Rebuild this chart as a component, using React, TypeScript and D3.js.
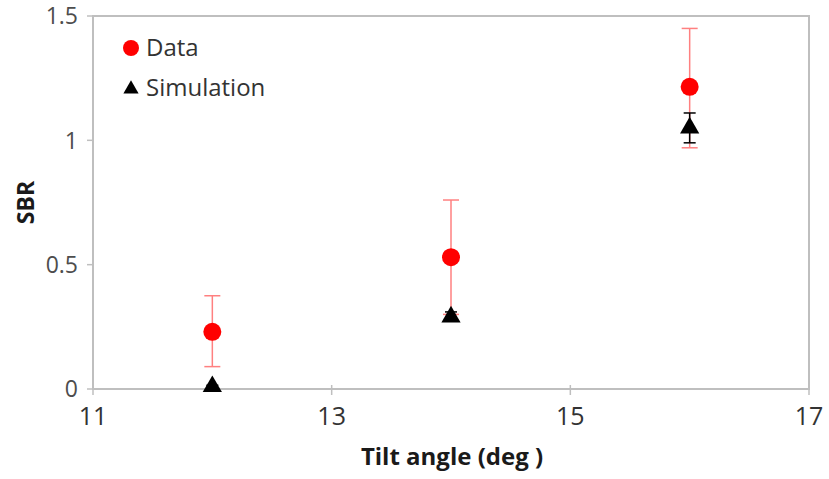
import React from 'react';
import * as d3 from 'd3';

// tilt angle (deg)
const angles = [12, 14, 16];
// measured SBR with error bar limits
const dataVals = [0.23, 0.53, 1.215];
const dataLow = [0.09, 0.3, 0.97];
const dataHigh = [0.375, 0.76, 1.45];
// simulated SBR with error bar limits
const simVals = [0.01, 0.29, 1.05];
const simLow = [0.005, 0.28, 0.99];
const simHigh = [0.015, 0.31, 1.11];

const xTicks = [11, 13, 15, 17];
const yTicks = [0, 0.5, 1, 1.5];

const W = 829;
const H = 479;
const m = { left: 93, right: 20, top: 16, bottom: 90 };

export default function App() {
  const x = d3.scaleLinear().domain([11, 17]).range([m.left, W - m.right]);
  const y = d3.scaleLinear().domain([0, 1.5]).range([H - m.bottom, m.top]);
  const tri = d3.symbol().type(d3.symbolTriangle).size(160)();
  const font = "'Open Sans', Lato, sans-serif";
  const axisCol = '#bfbfbf';
  const errBar = (xv: number, lo: number, hi: number, col: string, key: string, cap = 8) => (
    <g key={key} stroke={col} strokeWidth={1.5}>
      <line x1={x(xv)} x2={x(xv)} y1={y(lo)} y2={y(hi)} />
      <line x1={x(xv) - cap} x2={x(xv) + cap} y1={y(hi)} y2={y(hi)} />
      <line x1={x(xv) - cap} x2={x(xv) + cap} y1={y(lo)} y2={y(lo)} />
    </g>
  );
  return (
    <svg width={W} height={H} style={{ position: 'absolute', left: 0, top: 0, background: '#fff' }} fontFamily={font}>
      {/* frame */}
      <rect x={x(11)} y={y(1.5)} width={x(17) - x(11)} height={y(0) - y(1.5)} fill="none" stroke={axisCol} strokeWidth={2} />
      {yTicks.map(t => (
        <g key={'y' + t}>
          <line x1={x(11) - 6} x2={x(11)} y1={y(t)} y2={y(t)} stroke={axisCol} strokeWidth={1.5} />
          <text x={x(11) - 15} y={y(t)} dy="0.36em" textAnchor="end" fontSize={23} fill="#4d4d4d">{t}</text>
        </g>
      ))}
      {xTicks.map(t => (
        <g key={'x' + t}>
          <line x1={x(t)} x2={x(t)} y1={y(0) - 4} y2={y(0) + 6} stroke={axisCol} strokeWidth={1.5} />
          <text x={x(t)} y={y(0) + 36} textAnchor="middle" fontSize={25} fill="#333">{t}</text>
        </g>
      ))}
      <text x={(x(11) + x(17)) / 2 + 1} y={H - 14} textAnchor="middle" fontSize={24} fontWeight="bold" fill="#1a1a1a">Tilt angle (deg )</text>
      <text transform={`translate(34, ${(y(0) + y(1.5)) / 2}) rotate(-90)`} textAnchor="middle" fontSize={23} fontWeight="bold" fill="#1a1a1a">SBR</text>
      {/* data error bars */}
      {angles.map((a, i) => errBar(a, dataLow[i], dataHigh[i], '#ff8080', 'de' + i))}
      {angles.map((a, i) => errBar(a, simLow[i], simHigh[i], '#000', 'se' + i, 6))}
      {angles.map((a, i) => (
        <path key={'s' + i} d={tri} transform={`translate(${x(a)}, ${y(simVals[i])})`} fill="#000" />
      ))}
      {angles.map((a, i) => (
        <circle key={'d' + i} cx={x(a)} cy={y(dataVals[i])} r={9} fill="#ff0000" />
      ))}
      {/* legend */}
      <circle cx={131} cy={48} r={8} fill="#ff0000" />
      <text x={146} y={48} dy="0.35em" fontSize={24} fill="#333">Data</text>
      <path d={d3.symbol().type(d3.symbolTriangle).size(100)()} transform="translate(131, 89)" fill="#000" />
      <text x={146} y={88} dy="0.35em" fontSize={24} fill="#333">Simulation</text>
    </svg>
  );
}
